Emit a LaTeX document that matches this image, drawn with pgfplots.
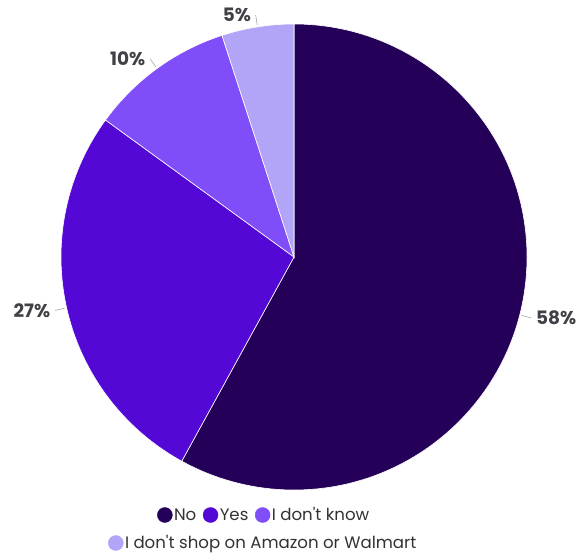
\documentclass[border=0pt]{standalone}
\usepackage{pgfplots}
\usepackage{pgfplotstable}
\pgfplotsset{compat=1.18}
\usepackage{fontspec}
\setmainfont{Poppins}
\definecolor{cNo}{RGB}{36,0,88}
\definecolor{cYes}{RGB}{84,8,214}
\definecolor{cKnow}{RGB}{128,78,248}
\definecolor{cShop}{RGB}{178,164,247}
\definecolor{labgray}{RGB}{64,64,70}
\definecolor{txtgray}{RGB}{50,50,50}

\pgfplotstableread{
value color
58 cNo
27 cYes
10 cKnow
5 cShop
}\piedata

\pgfplotsset{
  base/.style={x=1pt, y=1pt, xmin=0, xmax=581, ymin=0, ymax=552,
    hide axis, clip=false, at={(0,0)}, anchor=origin,
    legend style={draw=none, fill=none, font=\fontsize{16.6}{18}\selectfont\color{txtgray},
      legend cell align=left, anchor=center,
      nodes={inner sep=1.5pt},
      /tikz/every even column/.append style={column sep=5pt}},
    legend image code/.code={\fill[##1] (0pt,0pt) circle (7.5pt);}
  }
}

\begin{document}
\begin{tikzpicture}
\begin{axis}[base, legend columns=3,
  legend style={at={(axis cs:264,37)}}]
\path (axis cs:0,0) rectangle (axis cs:581,552);
\addlegendimage{cNo}\addlegendentry{No}
\addlegendimage{cYes}\addlegendentry{Yes}
\addlegendimage{cKnow}\addlegendentry{I don\textquotesingle t know}
\def\cum{0}
\pgfplotsforeachungrouped \i in {0,...,3}{%
  \pgfplotstablegetelem{\i}{value}\of\piedata \let\v\pgfplotsretval
  \pgfplotstablegetelem{\i}{color}\of\piedata \let\c\pgfplotsretval
  \pgfmathsetmacro\sa{90-3.6*\cum}%
  \pgfmathsetmacro\ea{90-3.6*(\cum+\v)}%
  \pgfmathsetmacro\ma{(\sa+\ea)/2}%
  \pgfmathsetmacro\cs{cos(\ma)}%
  \ifdim\cs pt>0pt \def\anc{west}\else\def\anc{east}\fi
  \edef\tmp{%
    \noexpand\fill[\c, draw=white, line width=0.6pt] (axis cs:294,295) -- ++(\sa:233pt)
      arc[start angle=\sa, end angle=\ea, radius=233pt] -- cycle;
    \noexpand\draw[gray!70, line width=0.6pt] (axis cs:294,295) ++(\ma:235pt) -- ++(\ma:10pt)
      node[anchor=\anc, inner sep=4.5pt, text=labgray, font=\noexpand\fontsize{18.5}{20}\noexpand\selectfont\noexpand\bfseries] {\v\%};
  }%
  \tmp
  \pgfmathsetmacro\cum{\cum+\v}%
}
\end{axis}
\begin{axis}[base, legend columns=1,
  legend style={at={(axis cs:263,9)}}]
\addlegendimage{cShop}\addlegendentry{I don\textquotesingle t shop on Amazon or Walmart}
\end{axis}
\end{tikzpicture}
\end{document}
